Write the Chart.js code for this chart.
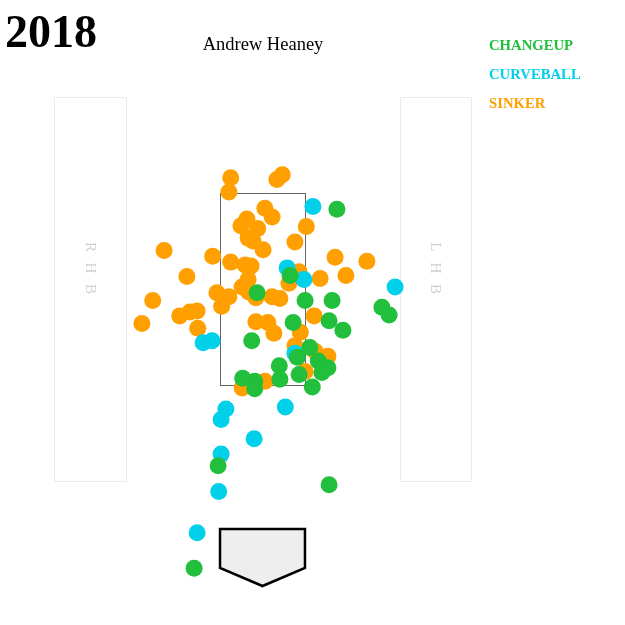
<!DOCTYPE html>
<html>
<head>
<meta charset="utf-8">
<script src="https://cdn.jsdelivr.net/npm/chart.js@4.4.0/dist/chart.umd.min.js"></script>
<style>
html,body{margin:0;padding:0;background:#fff;}
canvas{display:block;}
</style>
</head>
<body>
<canvas id="c" width="625" height="625"></canvas>
<script>
// Pitch locations (feet): horizontal plate_x, vertical plate_z
const changeupX = [1.24,0.46,-0.09,0.71,1.16,1.99,2.11,0.51,1.11,1.34,-0.18,0.58,0.79,0.93,1.09,0.99,0.28,0.61,0.29,-0.33,-0.13,-0.13,0.83,-0.74,1.11,-1.14];
const changeupZ = [3.33,2.64,2.46,2.38,2.38,2.31,2.23,2.15,2.17,2.07,1.96,1.79,1.89,1.75,1.68,1.63,1.70,1.61,1.56,1.57,1.54,1.46,1.48,0.66,0.46,-0.41];

const curveballX = [0.84,0.41,0.69,2.21,-0.99,-0.84,0.54,-0.61,-0.69,0.38,-0.14,-0.69,-0.73,-1.09];
const curveballZ = [3.36,2.72,2.60,2.52,1.94,1.96,1.83,1.25,1.14,1.27,0.94,0.78,0.39,-0.04];

const sinkerX = [-0.53,-0.56,0.24,0.33,0.04,0.16,-0.26,-0.36,-0.08,-0.24,-0.16,0.01,0.54,0.73,-1.64,-0.83,-0.53,-0.29,-0.19,-1.26,-0.24,-0.34,-0.23,-0.76,-0.56,-0.11,0.16,0.29,0.44,0.61,0.96,1.21,1.74,1.39,-1.83,-2.01,-1.38,-1.21,-1.09,-1.08,-0.68,-0.11,0.09,0.19,0.63,0.86,0.54,0.88,1.09,0.71,0.04,-0.34];
const sinkerZ = [3.66,3.51,3.64,3.69,3.34,3.25,3.23,3.16,3.13,3.03,3.00,2.91,2.99,3.15,2.90,2.84,2.78,2.75,2.74,2.63,2.60,2.52,2.47,2.46,2.42,2.41,2.42,2.40,2.56,2.68,2.61,2.83,2.79,2.64,2.38,2.14,2.22,2.26,2.27,2.09,2.32,2.16,2.15,2.04,2.05,2.22,1.91,1.85,1.80,1.64,1.54,1.47];

const pitchTypes = ['CHANGEUP','CURVEBALL','SINKER'];
const pitchColors = ['#21bf3b','#00d0ea','#ff9f00'];

const titleYear = '2018';
const pitcherName = 'Andrew Heaney';

// Field geometry (feet)
const ZONE = {x0:-0.708, x1:0.708, z0:1.5, z1:3.5};
const PLATE = [[-0.708,0],[0.708,0],[0.708,-0.406],[0,-0.594],[-0.708,-0.406]];
const BOXES = [{x0:-3.475,x1:-2.275,z0:0.5,z1:4.5,label:['R','H','B']},
               {x0:2.29,x1:3.475,z0:0.5,z1:4.5,label:['L','H','B']}];

function pts(xs,zs){return xs.map((x,i)=>({x:x,y:zs[i]}));}

const fieldPlugin = {
  id:'field',
  beforeDatasetsDraw(chart){
    const {ctx, scales:{x,y}} = chart;
    ctx.save();
    // batter boxes
    ctx.strokeStyle = '#ececec';
    ctx.lineWidth = 1;
    BOXES.forEach(b=>{
      const px0 = Math.round(x.getPixelForValue(b.x0))+0.5;
      const px1 = Math.round(x.getPixelForValue(b.x1))+0.5;
      const py0 = Math.round(y.getPixelForValue(b.z1))+0.5;
      const py1 = Math.round(y.getPixelForValue(b.z0))+0.5;
      ctx.strokeRect(px0,py0,px1-px0,py1-py0);
      const cx = (px0+px1)/2 - 1;
      const cy = y.getPixelForValue(2.72);
      ctx.fillStyle = '#cfcfcf';
      ctx.font = '15px "Liberation Serif", serif';
      ctx.textAlign = 'center';
      ctx.textBaseline = 'middle';
      b.label.forEach((ch,i)=>{
        ctx.save();
        ctx.translate(cx, cy + (i-1)*21);
        ctx.rotate(Math.PI/2);
        ctx.fillText(ch,0,0);
        ctx.restore();
      });
    });
    // strike zone
    ctx.strokeStyle = '#666';
    ctx.lineWidth = 1;
    const zx0 = Math.round(x.getPixelForValue(ZONE.x0))+0.5;
    const zx1 = Math.round(x.getPixelForValue(ZONE.x1))+0.5;
    const zy0 = Math.round(y.getPixelForValue(ZONE.z1))+0.5;
    const zy1 = Math.round(y.getPixelForValue(ZONE.z0))+0.5;
    ctx.strokeRect(zx0,zy0,zx1-zx0,zy1-zy0);
    // home plate
    ctx.beginPath();
    PLATE.forEach((p,i)=>{
      const px = x.getPixelForValue(p[0]), py = y.getPixelForValue(p[1]);
      if(i===0) ctx.moveTo(px,py); else ctx.lineTo(px,py);
    });
    ctx.closePath();
    ctx.fillStyle = '#eeeeee';
    ctx.fill();
    ctx.strokeStyle = '#000';
    ctx.lineWidth = 2.5;
    ctx.lineJoin = 'miter';
    ctx.stroke();
    ctx.restore();
  },
  afterDraw(chart){
    const {ctx} = chart;
    ctx.save();
    ctx.fillStyle = '#000';
    ctx.textBaseline = 'alphabetic';
    ctx.textAlign = 'left';
    ctx.font = 'bold 46px "Liberation Serif", serif';
    ctx.fillText(titleYear, 5, 47);
    ctx.textAlign = 'center';
    ctx.font = '18.5px "Liberation Serif", serif';
    ctx.fillText(pitcherName, 263, 50);
    ctx.textAlign = 'left';
    ctx.font = 'bold 14.7px "Liberation Serif", serif';
    pitchTypes.forEach((t,i)=>{
      ctx.fillStyle = pitchColors[i];
      ctx.fillText(t, 489, 50 + i*29);
    });
    ctx.restore();
  }
};

const datasets = [
  {label:pitchTypes[0], data:pts(changeupX,changeupZ), backgroundColor:pitchColors[0]},
  {label:pitchTypes[1], data:pts(curveballX,curveballZ), backgroundColor:pitchColors[1]},
  {label:pitchTypes[2], data:pts(sinkerX,sinkerZ), backgroundColor:pitchColors[2]}
].map(d=>Object.assign(d,{pointRadius:8.5,pointHoverRadius:8.5,borderWidth:0,pointBorderWidth:0}));

new Chart(document.getElementById('c'), {
  type:'scatter',
  data:{datasets:datasets},
  options:{
    responsive:false,
    animation:false,
    devicePixelRatio:1,
    layout:{padding:0, autoPadding:false},
    clip:false,
    plugins:{legend:{display:false}, tooltip:{enabled:false}, title:{display:false}},
    scales:{
      x:{type:'linear', display:false, min:-4.375, max:6.0417},
      y:{type:'linear', display:false, min:-1.0, max:5.5104}
    }
  },
  plugins:[fieldPlugin]
});
</script>
</body>
</html>
